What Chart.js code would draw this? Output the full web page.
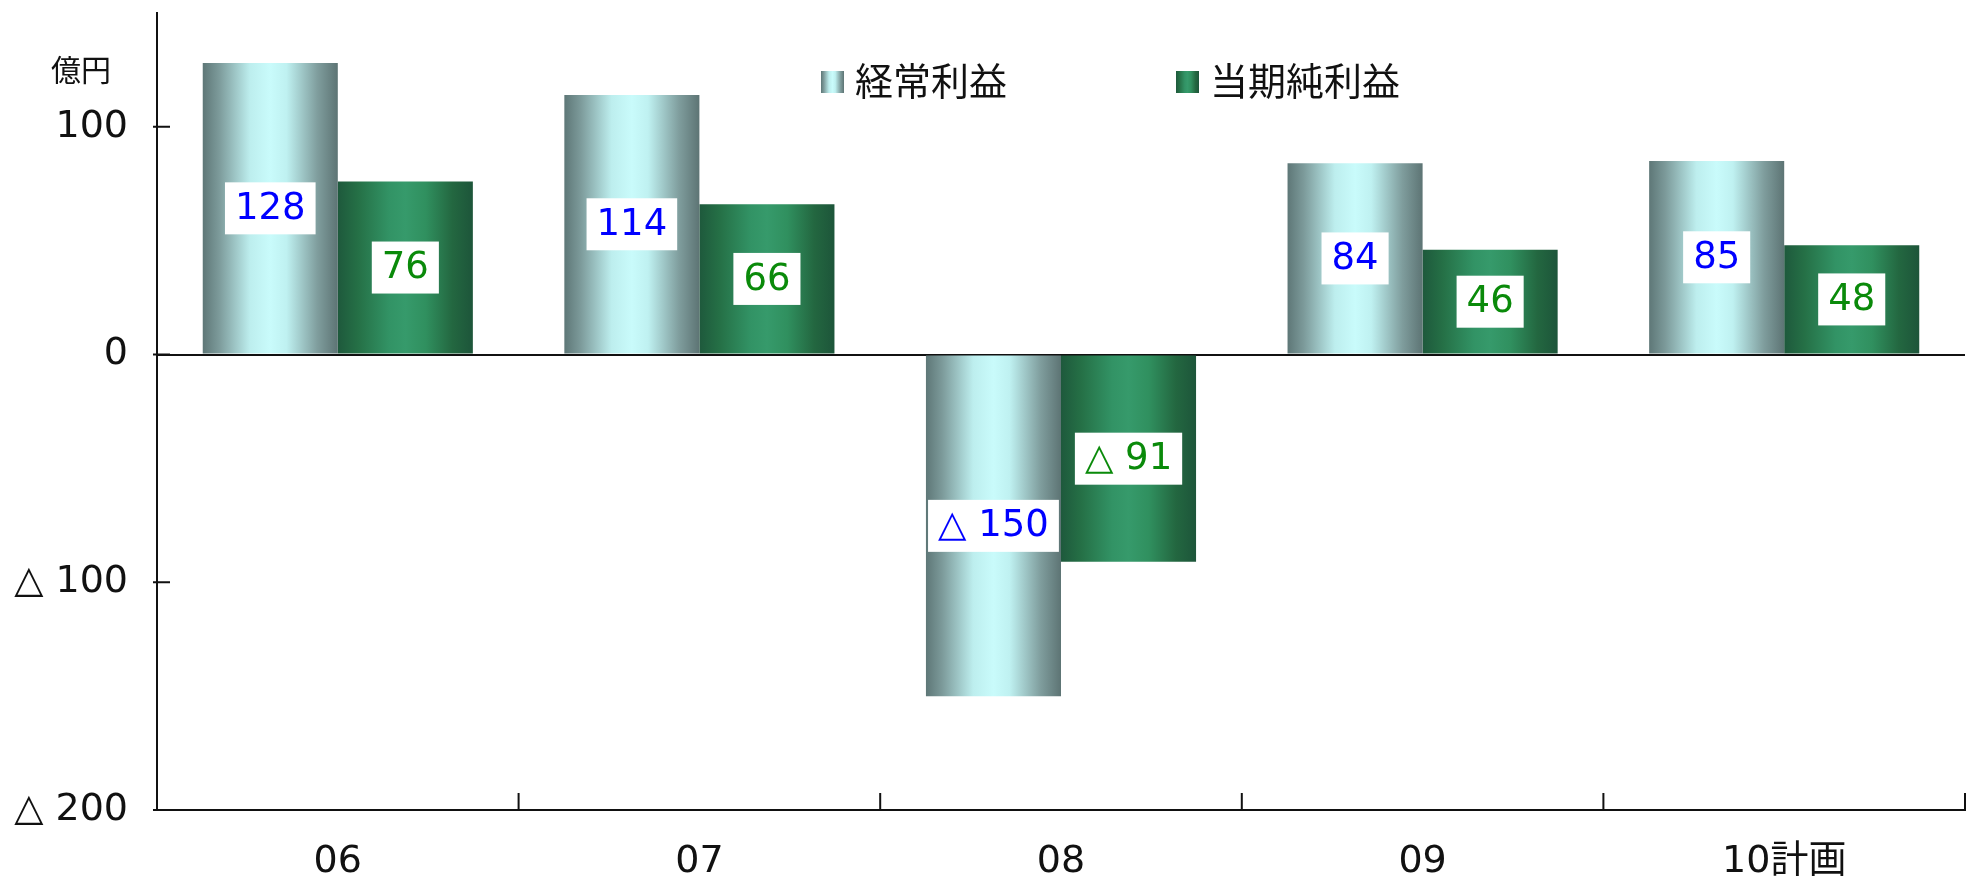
<!DOCTYPE html>
<html>
<head>
<meta charset="utf-8">
<script src="https://cdn.jsdelivr.net/npm/chart.js@4"></script>
<style>
	body { margin: 0; background: #fff; }
	#wrap { width: 1977px; height: 879px; }
</style>
</head>
<body>
<div id="wrap"><canvas id="myChart" width="1977" height="879"></canvas></div>
<script>
// categories and values (億円)
const years = ['06', '07', '08', '09', '10計画'];
const keijo = [128, 114, -150, 84, 85];     // 経常利益
const junri = [76, 66, -91, 46, 48];        // 当期純利益
const seriesNames = ['経常利益', '当期純利益'];
const yTicks = [-200, -100, 0, 100];

const numFont = '"DejaVu Sans", "Noto Sans CJK JP", sans-serif';
const jpFont = '"Noto Sans CJK JP", sans-serif';

// gradient stops for the two series (cylinder look)
const stopsBlue = [[0, '#5e7777'], [0.12, '#7c9a9a'], [0.35, '#bdeeee'], [0.5, '#c9fbfb'], [0.62, '#bff1f1'], [0.85, '#7f9d9d'], [1, '#5d7474']];
const stopsGreen = [[0, '#1e593c'], [0.15, '#257046'], [0.38, '#329365'], [0.5, '#369a6b'], [0.65, '#30905f'], [0.85, '#236740'], [1, '#1d553a']];
const labelColors = ['#0000ff', '#0a8a0a'];

function fmt(v) {
	return v < 0 ? '△ ' + (-v) : String(v);
}

function grad(ctx, x0, x1, stops) {
	const g = ctx.createLinearGradient(x0, 0, x1, 0);
	stops.forEach(s => g.addColorStop(s[0], s[1]));
	return g;
}

const barStyle = {
	id: 'barStyle',
	beforeDatasetDraw(chart, args) {
		const ctx = chart.ctx;
		const stops = args.index === 0 ? stopsBlue : stopsGreen;
		args.meta.data.forEach(el => {
			// options may be shared between bars, so give each bar its own copy
			el.options = Object.assign({}, el.options, {
				backgroundColor: grad(ctx, el.x - el.width / 2, el.x + el.width / 2, stops)
			});
		});
	},
	afterDatasetsDraw(chart) {
		const ctx = chart.ctx;
		ctx.save();
		ctx.font = '37px ' + numFont;
		ctx.textAlign = 'center';
		ctx.textBaseline = 'middle';
		chart.data.datasets.forEach((ds, di) => {
			chart.getDatasetMeta(di).data.forEach((el, i) => {
				const txt = fmt(ds.data[i]);
				const cy = (el.y + el.base) / 2;
				const w = ctx.measureText(txt).width + 20;
				const h = 52;
				ctx.fillStyle = '#fff';
				ctx.fillRect(el.x - w / 2, cy - h / 2, w, h);
				ctx.fillStyle = labelColors[di];
				ctx.fillText(txt, el.x, cy + 1);
			});
		});
		ctx.restore();
	},
	afterDraw(chart) {
		const ctx = chart.ctx;
		const xs = chart.scales.x, ys = chart.scales.y;
		const area = chart.chartArea;
		ctx.save();
		ctx.strokeStyle = '#111';
		ctx.lineWidth = 2;
		ctx.beginPath();
		// inner tick marks on the value axis
		yTicks.forEach(v => {
			const py = ys.getPixelForValue(v);
			ctx.moveTo(area.left - 4, py);
			ctx.lineTo(area.left + 13, py);
		});
		// category separators on the bottom axis
		for (let i = 1; i <= years.length; i++) {
			const px = xs.getPixelForValue(i - 0.5);
			ctx.moveTo(px, area.bottom);
			ctx.lineTo(px, area.bottom - 17);
		}
		ctx.stroke();

		// unit
		ctx.fillStyle = '#111';
		ctx.font = '30px ' + jpFont;
		ctx.textAlign = 'right';
		ctx.textBaseline = 'middle';
		ctx.fillText('億円', area.left - 46, 70);

		// legend
		const legendX = [821, 1176];
		ctx.font = '38px ' + jpFont;
		ctx.textAlign = 'left';
		seriesNames.forEach((name, i) => {
			const lx = legendX[i];
			ctx.fillStyle = grad(ctx, lx, lx + 23, i === 0 ? stopsBlue : stopsGreen);
			ctx.fillRect(lx, 71, 23, 22);
			ctx.fillStyle = '#111';
			ctx.fillText(name, lx + 34, 81);
		});
		ctx.restore();
	}
};

const ctx = document.getElementById('myChart');
new Chart(ctx, {
	type: 'bar',
	data: {
		labels: years,
		datasets: [
			{ label: seriesNames[0], data: keijo, backgroundColor: '#9cc', borderWidth: 0 },
			{ label: seriesNames[1], data: junri, backgroundColor: '#2a7', borderWidth: 0 }
		]
	},
	options: {
		responsive: false,
		animation: false,
		categoryPercentage: 0.747,
		barPercentage: 1.0,
		layout: { padding: { top: 13, right: 12, left: 0, bottom: 0 } },
		plugins: {
			legend: { display: false },
			tooltip: { enabled: false }
		},
		scales: {
			x: {
				grid: { display: false },
				border: { display: true, color: '#111', width: 2 },
				ticks: { color: '#111', font: { family: numFont, size: 38 }, padding: 21 },
				afterFit(scale) { scale.height = 69; scale.paddingLeft = 0; scale.paddingRight = 0; }
			},
			y: {
				min: -200,
				max: 150,
				afterBuildTicks(scale) { scale.ticks = yTicks.map(v => ({ value: v })); },
				grid: {
					drawTicks: false,
					lineWidth: 2,
					color: c => (c.tick && c.tick.value === 0) ? '#111' : 'rgba(0,0,0,0)'
				},
				border: { display: true, color: '#111', width: 2 },
				ticks: {
					color: '#111',
					font: { family: numFont, size: 38 },
					padding: 29,
					callback: v => fmt(v)
				},
				afterFit(scale) { scale.width = 157; scale.paddingTop = 0; scale.paddingBottom = 0; }
			}
		}
	},
	plugins: [barStyle]
});
</script>
</body>
</html>
